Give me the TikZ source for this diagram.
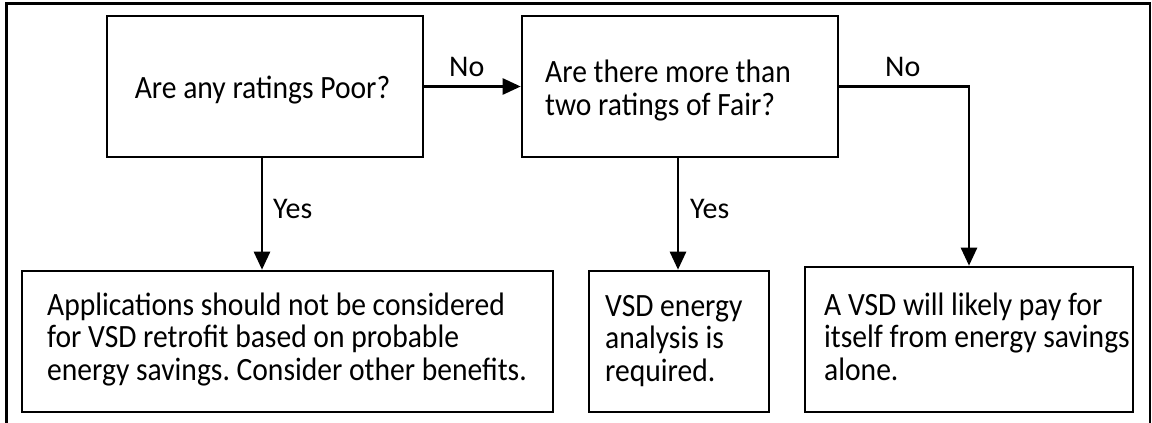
\documentclass[tikz,border=0pt]{standalone}
\usepackage{fontspec}
\setmainfont[FakeStretch=0.91]{Carlito}
\newfontfamily\lblfont{Carlito}
\usetikzlibrary{arrows.meta}
\frenchspacing
\begin{document}
\begin{tikzpicture}[x=1pt,y=-1pt,
  box/.style={draw, line width=2.6pt, inner sep=0pt},
  txt/.style={font=\fontsize{32.5}{32.5}\selectfont, align=left, inner sep=0pt},
  lbl/.style={font=\lblfont\fontsize{30}{30}\selectfont, inner sep=0pt},
  arr/.style={line width=2.6pt, -{Triangle[length=18pt,width=16pt]}}]
\useasboundingbox (0,0) rectangle (1152,423);
\draw[line width=2.4pt] (6.5,423) -- (6.5,3.5) -- (1150,3.5) -- (1150,423);
% boxes
\node[box, minimum width=316pt, minimum height=141pt] (q1) at (265,86.5) {};
\node[box, minimum width=316pt, minimum height=141pt] (q2) at (680,86.5) {};
\node[box, minimum width=531pt, minimum height=141pt] (r1) at (287.5,341.5) {};
\node[box, minimum width=180pt, minimum height=141pt] (r2) at (679,341.5) {};
\node[box, minimum width=328pt, minimum height=145pt] (r3) at (969,339.5) {};
% texts (base anchor = baseline of last line)
\node[txt, anchor=base] (t1) at (262.5,98) {Are any ratings Poor?};
\node[txt, anchor=base west] (t2) at (545,115) {Are there more than\\two ratings of Fair?};
\node[txt, anchor=base west] (t3) at (47,380) {Applications should not be considered\\for VSD retrofit based on probable\\energy savings. Consider other benefits.};
\node[txt, anchor=base west] (t4) at (605,381) {VSD energy\\analysis is\\required.};
\node[txt, anchor=base west] (t5) at (824,380) {A VSD will likely pay for\\itself from energy savings\\alone.};
% connectors
\draw[arr] (q1.east) -- (q2.west);
\draw[arr] ([xshift=-3pt]q1.south) -- ([xshift=-3pt]q1.south |- r1.north);
\draw[arr] ([xshift=-2pt]q2.south) -- ([xshift=-2pt]q2.south |- r2.north);
\draw[arr] (q2.east) -| (r3.north);
% labels
\node[lbl, anchor=base west] (no1) at (449,76) {No};
\node[lbl, anchor=base west] (no2) at (885,76) {No};
\node[lbl, anchor=base west] (yes1) at (273,218) {Yes};
\node[lbl, anchor=base west] (yes2) at (690,218) {Yes};
\end{tikzpicture}
\end{document}
